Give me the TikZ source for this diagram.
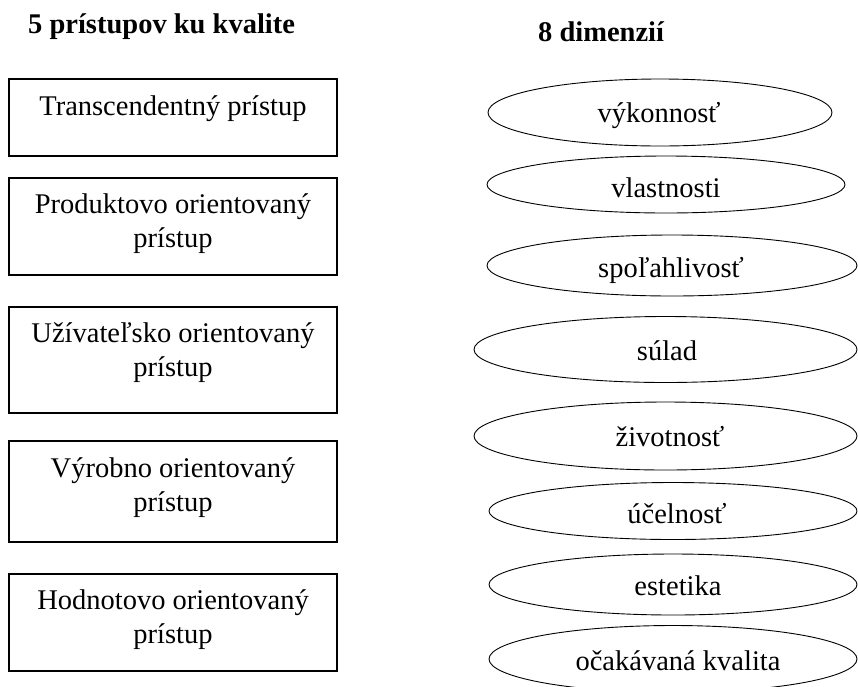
\documentclass[tikz,border=0pt]{standalone}
\usepackage{fontspec}
\setmainfont{Liberation Serif}
\usetikzlibrary{shapes.geometric}
\tikzset{
  box/.style={draw, line width=1.3pt, rectangle, minimum width=328pt, inner sep=0pt},
  dim/.style={draw, line width=0.9pt, ellipse, inner sep=0pt},
  txt/.style={anchor=base, align=center, inner sep=0pt, font=\fontsize{28.5}{34}\selectfont},
  head/.style={anchor=base west, inner sep=0pt, font=\fontsize{28.5}{34}\selectfont\bfseries}
}
\begin{document}
\begin{tikzpicture}[x=1pt, y=-1pt]
\useasboundingbox (0,0) rectangle (858,686);
\clip (0,0) rectangle (858,686);

% headings
\node[head] (h1) at (28,33) {5 prístupov ku kvalite};
\node[head] (h2) at (538,41) {8 dimenzií};

% five approaches
\node[box, minimum height=77pt]  (a1) at (173,117.5) {};
\node[box, minimum height=97pt]  (a2) at (173,226.5) {};
\node[box, minimum height=106pt] (a3) at (173,360) {};
\node[box, minimum height=101pt] (a4) at (173,491.5) {};
\node[box, minimum height=97pt]  (a5) at (173,622.5) {};

% labels: the base anchor sits on the last line
\node[txt] (t1) at (173,115) {Transcendentný prístup};
\node[txt] (t2) at (173,247) {Produktovo orientovaný\\prístup};
\node[txt] (t3) at (173,376) {Užívateľsko orientovaný\\prístup};
\node[txt] (t4) at (173,511) {Výrobno orientovaný\\prístup};
\node[txt] (t5) at (173,643) {Hodnotovo orientovaný\\prístup};

% eight dimensions
\node[dim, minimum width=344pt, minimum height=67pt] (d1) at (660,112.5) {};
\node[dim, minimum width=358pt, minimum height=57pt] (d2) at (666,184.5) {};
\node[dim, minimum width=370pt, minimum height=61pt] (d3) at (672,265.5) {};
\node[dim, minimum width=383pt, minimum height=66pt] (d4) at (665.5,349.5) {};
\node[dim, minimum width=383pt, minimum height=68pt] (d5) at (665.5,436) {};
\node[dim, minimum width=368pt, minimum height=57pt] (d6) at (673,511) {};
\node[dim, minimum width=368pt, minimum height=61pt] (d7) at (673,584.5) {};
\node[dim, minimum width=368pt, minimum height=67pt] (d8) at (673,659) {};

\node[txt] (s1) at (659,122) {výkonnosť};
\node[txt] (s2) at (666,197) {vlastnosti};
\node[txt] (s3) at (671,277) {spoľahlivosť};
\node[txt] (s4) at (667,360) {súlad};
\node[txt] (s5) at (670,446) {životnosť};
\node[txt] (s6) at (677,523) {účelnosť};
\node[txt] (s7) at (678,595) {estetika};
\node[txt] (s8) at (678,670) {očakávaná kvalita};
\end{tikzpicture}
\end{document}
